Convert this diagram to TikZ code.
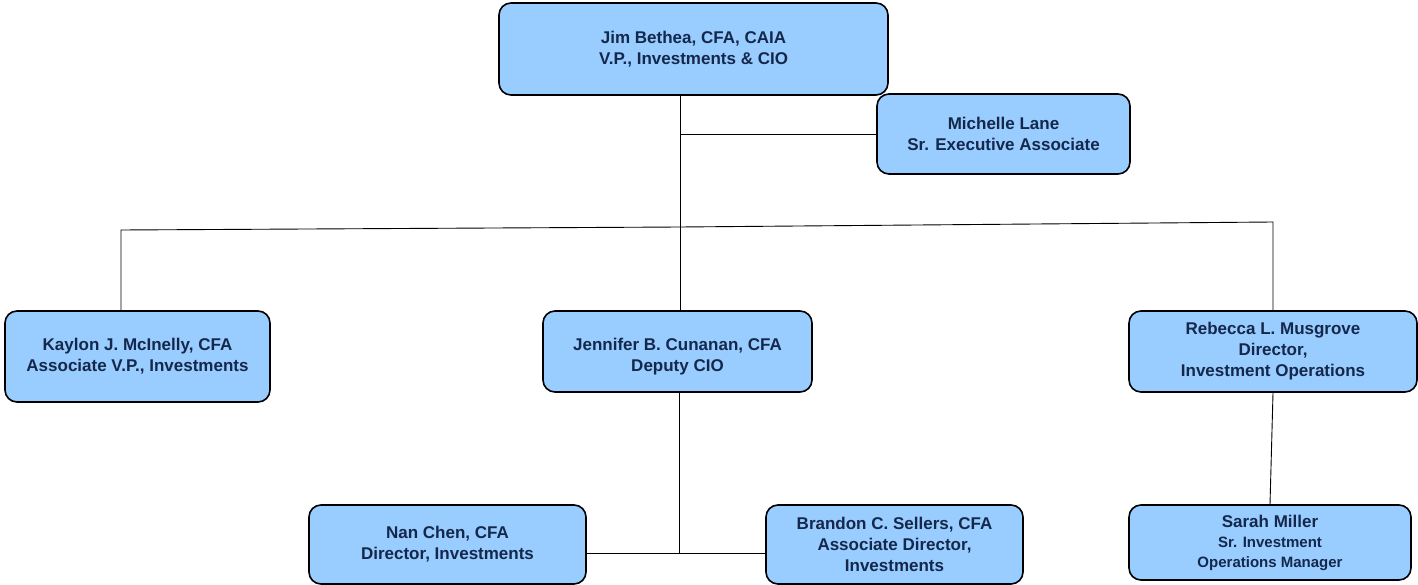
\documentclass[tikz,border=0pt]{standalone}
\usepackage{fontspec}
\setmainfont{Liberation Sans}
\definecolor{boxfill}{RGB}{153,204,255}
\definecolor{boxtext}{RGB}{20,40,75}
\begin{document}
\begin{tikzpicture}[x=1pt,y=-1pt,
  person/.style={draw=black,line width=1.6pt,fill=boxfill,rounded corners=12pt,
    text=boxtext,font=\fontsize{17}{21}\selectfont\bfseries,align=center,inner sep=0pt},
  link/.style={draw=black,line width=0.9pt}]
\useasboundingbox (0,0) rectangle (1418,585);
\node[person,minimum width=389pt,minimum height=92pt] (jim) at (693.5,49) {Jim Bethea, CFA, CAIA\\V.P., Investments \& CIO};
\node[person,minimum width=253pt,minimum height=80pt] (mic) at (1003.5,134) {Michelle Lane\\Sr. Executive Associate};
\node[person,minimum width=265pt,minimum height=91pt] (kay) at (137.5,356.5) {Kaylon J. McInelly, CFA\\Associate V.P., Investments};
\node[person,minimum width=269pt,minimum height=81pt,text height=43pt] (jen) at (677.5,351.5) {Jennifer B. Cunanan, CFA\\Deputy CIO};
\node[person,minimum width=288pt,minimum height=81pt] (reb) at (1273,351.5) {Rebecca L. Musgrove\\Director,\\Investment Operations};
\node[person,minimum width=277pt,minimum height=79pt] (nan) at (447.5,544.5) {Nan Chen, CFA\\Director, Investments};
\node[person,minimum width=257pt,minimum height=79pt] (bra) at (894.5,544.5) {Brandon C. Sellers, CFA\\Associate Director,\\Investments};
\node[person,minimum width=282pt,minimum height=75pt,font=\fontsize{17}{20}\selectfont\bfseries] (sar) at (1270,542.5) {Sarah Miller\\{\fontsize{15}{20}\selectfont Sr. Investment}\\{\fontsize{15}{20}\selectfont Operations Manager}};
\coordinate (j1) at (680,134);
\coordinate (bl) at (121,230);
\coordinate (bm) at (680,227);
\coordinate (br) at (1273,222);
\coordinate (bb) at (679,553);
\draw[link] (jim.south -| j1) -- (j1) -- (mic.west);
\draw[link] (j1) -- (jen.north -| j1);
\draw[link] (kay.north -| bl) -- (bl) -- (bm) -- (br) -- (reb.north -| br);
\draw[link] (jen.south -| bb) -- (bb);
\draw[link] (nan.east |- bb) -- (bra.west |- bb);
\draw[link] (reb.south) -- (sar.north);
\end{tikzpicture}
\end{document}
